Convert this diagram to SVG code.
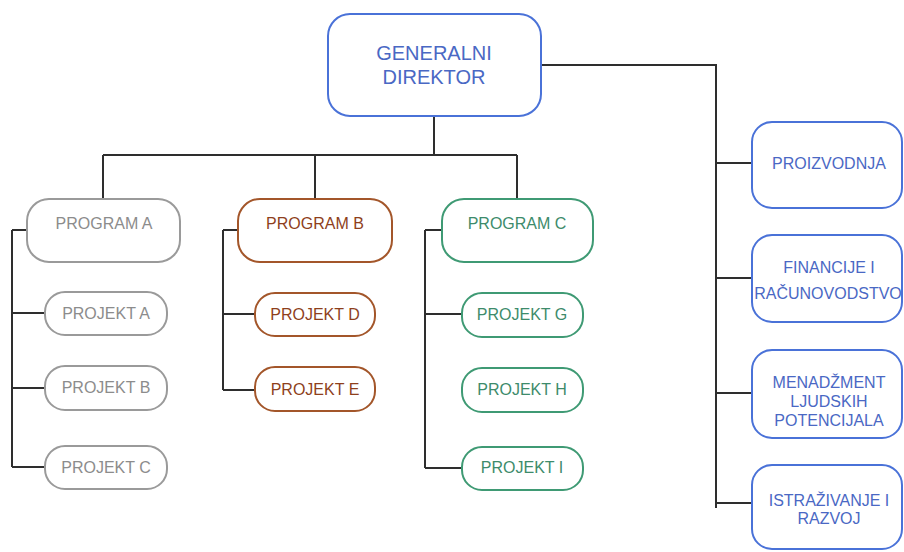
<svg xmlns="http://www.w3.org/2000/svg" width="904" height="552" viewBox="0 0 904 552">
  <style>
    text { font-family: "Liberation Sans", Arial, sans-serif; font-size: 16px; text-anchor: middle; }
    .box { fill: #ffffff; stroke-width: 2; }
    .blue rect { stroke: #4a72d8; }
    .blue text { fill: #4a68c4; }
    .grey rect { stroke: #9a9a9a; }
    .grey text { fill: #8c8c8c; }
    .brown rect { stroke: #a3562a; }
    .brown text { fill: #8e3f1c; }
    .green rect { stroke: #3f9a74; }
    .green text { fill: #3d8b6b; }
    #connectors path { fill: none; stroke: #2e2e2e; stroke-width: 2; }
  </style>
  <rect width="904" height="552" fill="#ffffff"/>

  <g id="connectors">
    <!-- director down to programs -->
    <path d="M434 117 V155 M103 155 H517 M103 155 V199 M315 155 V199 M517 155 V199"/>
    <!-- director to departments -->
    <path d="M541 65 H716 V508 M716 163 H752 M716 278 H752 M716 393 H752 M716 503 H752"/>
    <!-- program A -->
    <path d="M12 230 H27 M12 230 V467 M12 313 H45 M12 388 H45 M12 467 H45"/>
    <!-- program B -->
    <path d="M223 230 H238 M223 230 V390 M223 314 H255 M223 390 H255"/>
    <!-- program C -->
    <path d="M425 230 H442 M425 230 V468 M425 314 H462 M425 468 H462"/>
  </g>

  <g id="generalni-direktor" class="blue">
    <rect class="box" x="328" y="14" width="213" height="102" rx="22"/>
    <text x="434" y="60" style="font-size:20px">GENERALNI</text>
    <text x="434" y="84" style="font-size:20px">DIREKTOR</text>
  </g>

  <g id="program-a" class="grey">
    <rect class="box" x="27" y="199" width="153" height="63" rx="22"/>
    <text x="104" y="229">PROGRAM A</text>
  </g>
  <g id="projekt-a" class="grey">
    <rect class="box" x="45" y="292" width="122" height="43" rx="20"/>
    <text x="106" y="319">PROJEKT A</text>
  </g>
  <g id="projekt-b" class="grey">
    <rect class="box" x="45" y="366" width="122" height="44" rx="20"/>
    <text x="106" y="393">PROJEKT B</text>
  </g>
  <g id="projekt-c" class="grey">
    <rect class="box" x="45" y="446" width="122" height="43" rx="20"/>
    <text x="106" y="473">PROJEKT C</text>
  </g>

  <g id="program-b" class="brown">
    <rect class="box" x="238" y="199" width="154" height="63" rx="22"/>
    <text x="315" y="229">PROGRAM B</text>
  </g>
  <g id="projekt-d" class="brown">
    <rect class="box" x="255" y="293" width="120" height="43" rx="20"/>
    <text x="315" y="320">PROJEKT D</text>
  </g>
  <g id="projekt-e" class="brown">
    <rect class="box" x="255" y="367" width="120" height="44" rx="20"/>
    <text x="315" y="395">PROJEKT E</text>
  </g>

  <g id="program-c" class="green">
    <rect class="box" x="442" y="199" width="151" height="63" rx="22"/>
    <text x="517" y="229">PROGRAM C</text>
  </g>
  <g id="projekt-g" class="green">
    <rect class="box" x="462" y="293" width="121" height="44" rx="20"/>
    <text x="522" y="320">PROJEKT G</text>
  </g>
  <g id="projekt-h" class="green">
    <rect class="box" x="462" y="368" width="121" height="44" rx="20"/>
    <text x="522" y="395">PROJEKT H</text>
  </g>
  <g id="projekt-i" class="green">
    <rect class="box" x="462" y="447" width="121" height="43" rx="20"/>
    <text x="522" y="473">PROJEKT I</text>
  </g>

  <g id="proizvodnja" class="blue">
    <rect class="box" x="752" y="122" width="150" height="86" rx="20"/>
    <text x="829" y="169">PROIZVODNJA</text>
  </g>
  <g id="financije" class="blue">
    <rect class="box" x="752" y="235" width="150" height="87" rx="20"/>
    <text x="829" y="273">FINANCIJE I</text>
    <text x="828" y="299">RAČUNOVODSTVO</text>
  </g>
  <g id="menadzment" class="blue">
    <rect class="box" x="752" y="350" width="150" height="88" rx="20"/>
    <text x="829" y="388">MENADŽMENT</text>
    <text x="829" y="407">LJUDSKIH</text>
    <text x="829" y="426">POTENCIJALA</text>
  </g>
  <g id="istrazivanje" class="blue">
    <rect class="box" x="752" y="465" width="150" height="84" rx="20"/>
    <text x="829" y="506">ISTRAŽIVANJE I</text>
    <text x="829" y="524">RAZVOJ</text>
  </g>
</svg>
